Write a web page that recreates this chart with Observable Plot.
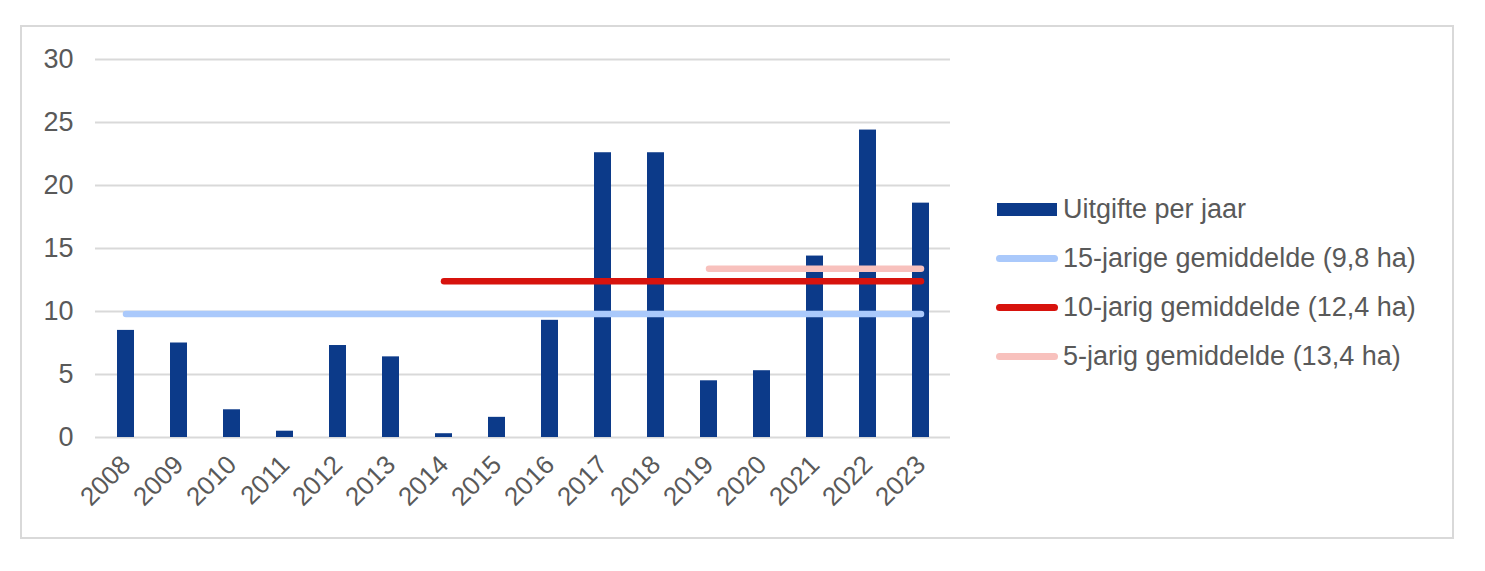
<!DOCTYPE html>
<html>
<head>
<meta charset="utf-8">
<script src="https://cdn.jsdelivr.net/npm/d3@7"></script>
<script src="https://cdn.jsdelivr.net/npm/@observablehq/plot@0.6"></script>
<style>
  html, body { margin: 0; padding: 0; background: #fff; }
  body { width: 1485px; height: 571px; position: relative; overflow: hidden; font-family: "Liberation Sans", Arial, sans-serif; }
  #frame { position: absolute; left: 20px; top: 25px; width: 1430px; height: 510px; border: 2px solid #d9d9d9; }
  #chart { position: absolute; left: 0; top: 0; }
  #legend { position: absolute; left: 996px; top: 185px; color: #595959; font-size: 27px; }
  .item { display: flex; align-items: center; height: 49px; }
  .sw { width: 62px; margin-right: 5px; display: flex; align-items: center; justify-content: center; }
  .bar { width: 60px; height: 13px; }
  .ln { width: 62px; height: 7px; border-radius: 4px; }
</style>
</head>
<body>
<div id="frame"></div>
<div id="chart"></div>
<div id="legend"></div>
<script>
const years = ["2008","2009","2010","2011","2012","2013","2014","2015","2016","2017","2018","2019","2020","2021","2022","2023"];
const uitgifte = [8.5, 7.5, 2.2, 0.5, 7.3, 6.4, 0.3, 1.6, 9.3, 22.6, 22.6, 4.5, 5.3, 14.4, 24.4, 18.6];
const barLabel = "Uitgifte per jaar";
const avgLabels = ["15-jarige gemiddelde (9,8 ha)", "10-jarig gemiddelde (12,4 ha)", "5-jarig gemiddelde (13,4 ha)"];
const avgValues = [9.8, 12.4, 13.4];
const avgStart = ["2008", "2014", "2019"];
const avgEnd = ["2023", "2023", "2023"];
const avgColors = ["#aac9fb", "#d7130d", "#f8c1bd"];
const barColor = "#0c3a89";
const yTicks = [0, 5, 10, 15, 20, 25, 30];

const bars = years.map((y, i) => ({year: y, value: uitgifte[i]}));
const avgLines = avgLabels.flatMap((lab, i) => [
  {series: lab, year: avgStart[i], value: avgValues[i], color: avgColors[i]},
  {series: lab, year: avgEnd[i], value: avgValues[i], color: avgColors[i]}
]);

const plot = Plot.plot({
  width: 1485,
  height: 571,
  marginLeft: 95,
  marginRight: 535,
  marginTop: 59,
  marginBottom: 134,
  style: {fontFamily: "Liberation Sans, Arial, sans-serif", color: "#595959", background: "transparent"},
  x: {domain: years, paddingInner: 0.68, paddingOuter: 0.34, label: null},
  y: {domain: [0, 30], ticks: yTicks, label: null},
  marks: [
    Plot.gridY(yTicks, {stroke: "#d9d9d9", strokeOpacity: 1, strokeWidth: 2}),
    Plot.barY(bars, {x: "year", y: "value", fill: barColor}),
    Plot.line(avgLines, {x: "year", y: "value", z: "series", stroke: "color", strokeWidth: 6.5, strokeLinecap: "round"}),
    Plot.axisY(yTicks, {tickSize: 0, tickPadding: 22, fontSize: 27, fill: "#595959"}),
    Plot.axisX({tickSize: 0, tickPadding: 23, tickRotate: -45, fontSize: 26, fill: "#595959"})
  ]
});
document.getElementById("chart").appendChild(plot);

const legend = document.getElementById("legend");
const items = [{label: barLabel, color: barColor, type: "bar"}].concat(
  avgLabels.map((l, i) => ({label: l, color: avgColors[i], type: "ln"})));
for (const it of items) {
  const row = document.createElement("div");
  row.className = "item";
  const sw = document.createElement("div");
  sw.className = "sw";
  const m = document.createElement("div");
  m.className = it.type;
  m.style.background = it.color;
  sw.appendChild(m);
  const t = document.createElement("span");
  t.textContent = it.label;
  row.appendChild(sw);
  row.appendChild(t);
  legend.appendChild(row);
}
</script>
</body>
</html>
